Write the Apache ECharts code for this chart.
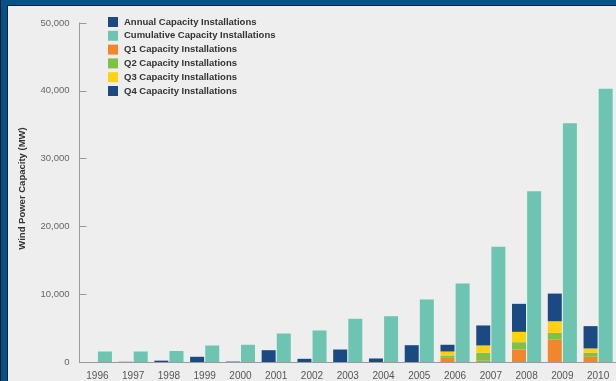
<!DOCTYPE html>
<html>
<head>
<meta charset="utf-8">
<script src="https://cdn.jsdelivr.net/npm/echarts@6/dist/echarts.min.js"></script>
<style>
  html, body { margin: 0; padding: 0; background: #eeeeee; }
  #wrap { position: relative; width: 616px; height: 381px; overflow: hidden; background: #eeeeee; }
  #chart { position: absolute; left: 0; top: 0; width: 616px; height: 381px; }
  .band { position: absolute; }
</style>
</head>
<body>
<div id="wrap">
  <div id="chart"></div>
  <div class="band" style="left:0;top:0;width:616px;height:5px;background:#03528a;"></div>
  <div class="band" style="left:7px;top:5px;width:609px;height:1px;background:#0b2740;"></div>
  <div class="band" style="left:0;top:0;width:7px;height:381px;background:#03528a;"></div>
  <div class="band" style="left:7px;top:5px;width:1px;height:376px;background:#0b2740;"></div>
  <div class="band" style="left:0;top:0;width:1px;height:381px;background:#0b1a28;"></div>
</div>
<script>
// Installed wind power capacity, MW
const years = ['1996','1997','1998','1999','2000','2001','2002','2003','2004','2005','2006','2007','2008','2009','2010'];
const annual = [0, 30, 200, 770, 60, 1740, 470, 1840, 520, 2480, null, null, null, null, null];
const cumulative = [1550, 1550, 1620, 2430, 2540, 4200, 4650, 6370, 6750, 9220, 11580, 17000, 25200, 35200, 40300];
const q1 = [null, null, null, null, null, null, null, null, null, null, 620, 200, 1840, 3320, 770];
const q2 = [null, null, null, null, null, null, null, null, null, null, 340, 1160, 1080, 980, 590];
const q3 = [null, null, null, null, null, null, null, null, null, null, 590, 1080, 1530, 1710, 640];
const q4 = [null, null, null, null, null, null, null, null, null, null, 990, 2950, 4130, 4080, 3290];
const yTicks = [0, 10000, 20000, 30000, 40000, 50000];

const navy = '#1b4a83';
const teal = '#6dc5b1';
const orange = '#f1862a';
const green = '#7ec143';
const yellow = '#fdd311';

const chart = echarts.init(document.getElementById('chart'), null, { renderer: 'canvas' });
const barW = 14;

chart.setOption({
  backgroundColor: 'transparent',
  animation: false,
  textStyle: { fontFamily: 'Liberation Sans, Arial, sans-serif' },
  legend: {
    orient: 'vertical',
    left: 108,
    top: 17,
    padding: 0,
    itemWidth: 10,
    itemHeight: 10,
    itemGap: 3.8,
    icon: 'rect',
    data: ['Annual Capacity Installations', 'Cumulative Capacity Installations',
           'Q1 Capacity Installations', 'Q2 Capacity Installations',
           'Q3 Capacity Installations', 'Q4 Capacity Installations'],
    textStyle: { fontSize: 9.5, fontWeight: 'bold', color: '#333', lineHeight: 10, padding: [0, 0, 0, 1] }
  },
  grid: { left: 79.5, right: -6.5, top: 23, bottom: 18.5, containLabel: false },
  xAxis: {
    type: 'category',
    data: years,
    boundaryGap: true,
    axisLine: { lineStyle: { color: '#9a9a9a', width: 1 } },
    axisTick: { show: false },
    axisLabel: { fontSize: 10, color: '#555', margin: 9, interval: 0 }
  },
  yAxis: {
    type: 'value',
    min: yTicks[0],
    max: yTicks[yTicks.length - 1],
    interval: 10000,
    name: 'Wind Power Capacity (MW)',
    nameLocation: 'middle',
    nameRotate: 90,
    nameGap: 52,
    nameTextStyle: { fontSize: 9.5, fontWeight: 'bold', color: '#333', align: 'center', padding: [0, 0, 0, 8] },
    axisLine: { show: true, lineStyle: { color: '#9a9a9a', width: 1 } },
    axisTick: { show: true, inside: true, length: 7, lineStyle: { color: '#9a9a9a' } },
    splitLine: { show: false },
    axisLabel: {
      fontSize: 9.5, color: '#666', margin: 10,
      formatter: v => v.toLocaleString('en-US')
    }
  },
  series: [
    { name: 'Annual Capacity Installations', type: 'bar', stack: 'yearly', data: annual,
      barWidth: barW, barGap: '8%', itemStyle: { color: navy } },
    { name: 'Cumulative Capacity Installations', type: 'bar', stack: 'total', data: cumulative,
      barWidth: barW, barGap: '8%', itemStyle: { color: teal } },
    { name: 'Q1 Capacity Installations', type: 'bar', stack: 'yearly', data: q1,
      barWidth: barW, itemStyle: { color: orange } },
    { name: 'Q2 Capacity Installations', type: 'bar', stack: 'yearly', data: q2,
      barWidth: barW, itemStyle: { color: green } },
    { name: 'Q3 Capacity Installations', type: 'bar', stack: 'yearly', data: q3,
      barWidth: barW, itemStyle: { color: yellow } },
    { name: 'Q4 Capacity Installations', type: 'bar', stack: 'yearly', data: q4,
      barWidth: barW, itemStyle: { color: navy } }
  ]
});
</script>
</body>
</html>
